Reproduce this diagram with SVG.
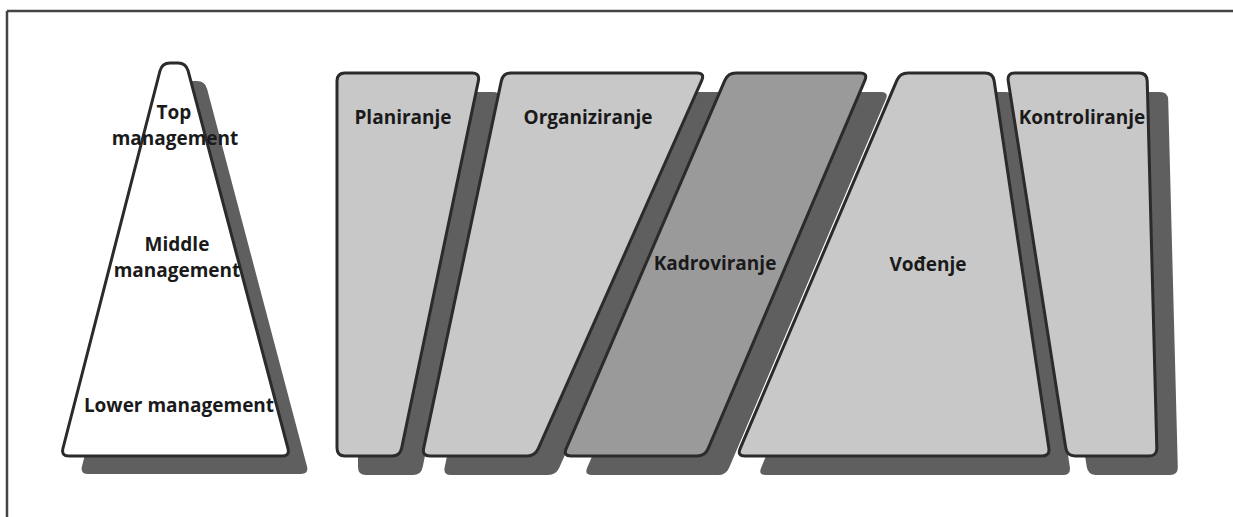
<svg xmlns="http://www.w3.org/2000/svg" width="1233" height="517" viewBox="0 0 1233 517">
<style>
.frame{fill:none;stroke:#444;stroke-width:2.5}
.sh{fill:#5f5f5f}
.pn{fill:#c8c8c8;stroke:#2b2b2b;stroke-width:3;stroke-linejoin:round}
.dk{fill:#9a9a9a}
.wh{fill:#ffffff}
.t{font-family:"Open Sans","Liberation Sans",sans-serif;font-weight:bold;font-size:19px;fill:#1a1a1a;text-anchor:middle}
</style>
<defs>
<path id="pyr" d="M 170,63 L 178,63 Q 186,63 188.05,70.73 L 287.95,448.27 Q 290,456 282,456 L 69,456 Q 61,456 62.99,448.25 L 160.01,70.75 Q 162,63 170,63 Z"/>
<path id="pla" d="M 345,73 L 472,73 Q 480,73 478.36,80.83 L 401.64,448.17 Q 400,456 392,456 L 345,456 Q 337,456 337,448 L 337,81 Q 337,73 345,73 Z"/>
<path id="org" d="M 511,73 L 697,73 Q 705,73 701.75,80.31 L 538.25,448.69 Q 535,456 527,456 L 430,456 Q 422,456 423.66,448.17 L 501.34,80.83 Q 503,73 511,73 Z"/>
<path id="kad" d="M 736,73 L 860,73 Q 868,73 864.87,80.36 L 708.13,448.64 Q 705,456 697,456 L 571,456 Q 563,456 566.17,448.65 L 724.83,80.35 Q 728,73 736,73 Z"/>
<path id="vod" d="M 908,73 L 985,73 Q 993,73 994.18,80.91 L 1048.82,448.09 Q 1050,456 1042,456 L 745,456 Q 737,456 740.13,448.64 L 896.87,80.36 Q 900,73 908,73 Z"/>
<path id="kon" d="M 1015,73 L 1139,73 Q 1147,73 1147.21,81 L 1156.79,448 Q 1157,456 1149,456 L 1075,456 Q 1067,456 1065.76,448.1 L 1008.24,80.9 Q 1007,73 1015,73 Z"/>
</defs>
<g id="frame">
<line class="frame" x1="7" y1="11" x2="1233" y2="11"/>
<line class="frame" x1="7" y1="11" x2="7" y2="517"/>
</g>
<g id="pyramid">
<use href="#pyr" class="sh" transform="translate(19,18)"/>
<use href="#pyr" class="pn wh"/>
<text class="t" x="174" y="119">Top</text>
<text class="t" x="175" y="145">management</text>
<text class="t" x="177" y="251">Middle</text>
<text class="t" x="177" y="277">management</text>
<text class="t" x="179" y="412">Lower management</text>
</g>
<g id="planiranje">
<use href="#pla" class="sh" transform="translate(21,19)"/>
<use href="#pla" class="pn"/>
<text class="t" x="403" y="124">Planiranje</text>
</g>
<g id="organiziranje">
<use href="#org" class="sh" transform="translate(21,19)"/>
<use href="#org" class="pn"/>
<text class="t" x="588" y="124">Organiziranje</text>
</g>
<g id="kadroviranje">
<use href="#kad" class="sh" transform="translate(21,19)"/>
<use href="#kad" class="pn dk"/>
<text class="t" x="715" y="270">Kadroviranje</text>
</g>
<g id="vodjenje">
<use href="#vod" class="sh" transform="translate(21,19)"/>
<use href="#vod" class="pn"/>
<text class="t" x="928" y="271">Vođenje</text>
</g>
<g id="kontroliranje">
<use href="#kon" class="sh" transform="translate(21,19)"/>
<use href="#kon" class="pn"/>
<text class="t" x="1082" y="124">Kontroliranje</text>
</g>
<g id="connectors"/>
</svg>
